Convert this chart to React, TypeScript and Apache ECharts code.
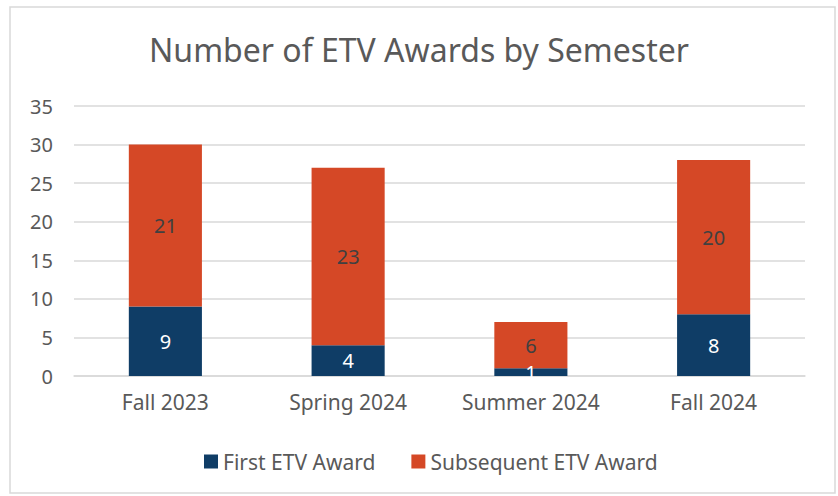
import React, { useEffect, useRef } from "react";
import * as echarts from "echarts";

const categories = ["Fall 2023", "Spring 2024", "Summer 2024", "Fall 2024"];
const firstAward = [9, 4, 1, 8];
const subsequentAward = [21, 23, 6, 20];
const yTicks = [0, 5, 10, 15, 20, 25, 30, 35];

const FONT = "'Noto Sans', 'Open Sans', sans-serif";

export default function App() {
  const ref = useRef<HTMLDivElement>(null);
  useEffect(() => {
    document.body.style.margin = "0";
    const chart = echarts.init(ref.current!, null, { renderer: "svg" });
    chart.setOption({
      animation: false,
      backgroundColor: "#ffffff",
      title: {
        text: "Number of ETV Awards by Semester",
        left: "center",
        top: 28,
        textStyle: { fontFamily: FONT, fontSize: 32, fontWeight: "normal", color: "#595959" },
      },
      legend: {
        top: 446,
        left: 199,
        itemWidth: 14,
        itemHeight: 14,
        itemGap: 36,
        icon: "rect",
        textStyle: { fontFamily: FONT, fontSize: 21, color: "#595959" },
        data: ["First ETV Award", "Subsequent ETV Award"],
      },
      grid: { left: 74, right: 33, top: 106, bottom: 120, containLabel: false },
      xAxis: {
        type: "category",
        data: categories,
        axisLine: { lineStyle: { color: "#d9d9d9", width: 1.5 } },
        axisTick: { show: false },
        axisLabel: { fontFamily: FONT, fontSize: 21, color: "#595959", margin: 15 },
      },
      yAxis: {
        type: "value",
        min: yTicks[0],
        max: yTicks[yTicks.length - 1],
        interval: 5,
        axisLine: { show: false },
        axisTick: { show: false },
        splitLine: { lineStyle: { color: "#d9d9d9", width: 1.5 } },
        axisLabel: { fontFamily: FONT, fontSize: 20, color: "#595959", margin: 21 },
      },
      series: [
        {
          name: "First ETV Award",
          type: "bar",
          stack: "total",
          barWidth: "40%",
          data: firstAward,
          itemStyle: { color: "#0f3d66" },
          label: { show: true, position: "inside", fontFamily: FONT, fontSize: 20, color: "#ffffff" },
        },
        {
          name: "Subsequent ETV Award",
          type: "bar",
          stack: "total",
          barWidth: "40%",
          data: subsequentAward,
          itemStyle: { color: "#d54826" },
          label: { show: true, position: "inside", fontFamily: FONT, fontSize: 20, color: "#404040" },
        },
      ],
      graphic: [
        {
          type: "rect",
          shape: { x: 10, y: 7, width: 825, height: 486 },
          style: { fill: "none", stroke: "#d9d9d9", lineWidth: 1.5 },
          silent: true,
        },
      ],
    });
    return () => chart.dispose();
  }, []);
  return <div ref={ref} style={{ width: 838, height: 496, position: "absolute", left: 0, top: 0 }} />;
}
